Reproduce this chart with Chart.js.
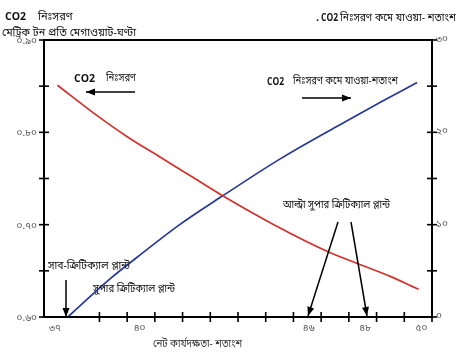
<!DOCTYPE html>
<html><head><meta charset="utf-8">
<script src="https://cdn.jsdelivr.net/npm/chart.js@4/dist/chart.umd.min.js"></script>
<style>html,body{margin:0;padding:0;background:#fff;}#wrap{width:468px;height:357px;position:relative;}</style>
</head><body><div id="wrap"><canvas id="c" width="468" height="357"></canvas></div>
<script>
// Net efficiency (%) vs CO2 emission (t/MWh)
const emissionEfficiency = [37.45, 38.7, 39.8, 40.9, 42.0, 43.0, 44.7, 46.5, 47.5, 48.6, 49.55];
const emissionValues     = [0.851, 0.820, 0.795, 0.773, 0.751, 0.731, 0.700, 0.671, 0.658, 0.644, 0.630];
// Net efficiency (%) vs CO2 reduction (%)
const reductionEfficiency = [37.8, 39.2, 40.35, 41.5, 43.0, 44.9, 46.9, 48.3, 49.5];
const reductionValues     = [0, 4.1, 7.05, 9.9, 13.15, 17.1, 20.8, 23.3, 25.4];
// tick labels
const xTickValues = [37, 40, 46, 48, 50];
const xTickLabels = ['৩৭', '৪০', '৪৬', '৪৮', '৫০'];
const leftTickValues = [0.60, 0.65, 0.70, 0.75, 0.80, 0.85, 0.90];
const leftTickLabels = ['০.৬০', '', '০.৭০', '', '০.৮০', '', '০.৯০'];
const rightTickValues = [0, 5, 10, 15, 20, 25, 30];
const rightTickLabels = ['০', '', '১০', '', '২০', '', '৩০'];

const BN = '"Noto Sans Bengali","Lohit Bengali","Noto Sans",sans-serif';

function arrow(ctx, x1, y1, x2, y2) {
  ctx.beginPath(); ctx.moveTo(x1, y1); ctx.lineTo(x2, y2); ctx.stroke();
  const a = Math.atan2(y2 - y1, x2 - x1), L = 9, W = 3.5;
  ctx.beginPath();
  ctx.moveTo(x2, y2);
  ctx.lineTo(x2 - L * Math.cos(a) + W * Math.sin(a), y2 - L * Math.sin(a) - W * Math.cos(a));
  ctx.lineTo(x2 - L * Math.cos(a) - W * Math.sin(a), y2 - L * Math.sin(a) + W * Math.cos(a));
  ctx.closePath(); ctx.fill();
}

const decor = {
  id: 'decor',
  afterDraw(chart) {
    const ctx = chart.ctx, ca = chart.chartArea;
    const sx = chart.scales.x, sy = chart.scales.y, sy2 = chart.scales.y2;
    ctx.save();
    ctx.strokeStyle = '#000'; ctx.fillStyle = '#000'; ctx.lineWidth = 2;
    ctx.strokeRect(ca.left, ca.top, ca.right - ca.left, ca.bottom - ca.top);
    ctx.lineWidth = 1.6;
    leftTickValues.forEach(v => { const p = sy.getPixelForValue(v); ctx.beginPath(); ctx.moveTo(ca.left - 5, p); ctx.lineTo(ca.left + 5, p); ctx.stroke(); });
    rightTickValues.forEach(v => { const p = sy2.getPixelForValue(v); ctx.beginPath(); ctx.moveTo(ca.right - 5, p); ctx.lineTo(ca.right + 5, p); ctx.stroke(); });
    const n = 14;
    for (let i = 2; i <= n; i++) {
      const p = sx.getPixelForValue(sx.min + i * (sx.max - sx.min) / n);
      ctx.beginPath(); ctx.moveTo(p, ca.bottom - 5); ctx.lineTo(p, ca.bottom + 5); ctx.stroke();
    }
    ctx.textBaseline = 'alphabetic'; ctx.textAlign = 'left';
    ctx.fillStyle = '#111';
    ctx.font = 'bold 11px "Open Sans", sans-serif';
    ctx.fillText('CO2', 5, 20, 21);
    ctx.fillText('.', 316, 21);
    ctx.fillText('CO2', 321, 21, 17);
    ctx.fillText('CO2', 74, 82, 21);
    ctx.fillText('CO2', 267, 85, 17);
    ctx.font = '11px ' + BN;
    ctx.fillText('নিঃসরণ', 38, 20, 38);
    ctx.fillText('মেট্রিক টন প্রতি মেগাওয়াট-ঘণ্টা', 2, 36, 134);
    ctx.fillText('নিঃসরণ কমে যাওয়া- শতাংশ', 340, 21, 116);
    ctx.fillText('নিঃসরণ', 106, 81, 30);
    ctx.fillText('নিঃসরণ কমে যাওয়া-শতাংশ', 293, 84, 105);
    ctx.fillText('আল্ট্রা সুপার ক্রিটিক্যাল প্লান্ট', 283, 208, 107);
    ctx.fillText('সাব-ক্রিটিক্যাল প্লান্ট', 48, 269, 82);
    ctx.fillText('সুপার ক্রিটিক্যাল প্লান্ট', 93, 292, 82);
    ctx.fillStyle = '#333';
    ctx.fillText('নেট কার্যদক্ষতা- শতাংশ', 153, 347, 89);
    ctx.strokeStyle = '#000'; ctx.fillStyle = '#000'; ctx.lineWidth = 1.5;
    arrow(ctx, 135, 92, 86, 92);
    arrow(ctx, 302, 98, 351, 98);
    arrow(ctx, 338, 222, 308, 316);
    arrow(ctx, 351, 222, 367, 316);
    arrow(ctx, 66, 280, 66, 317);
    ctx.restore();
  }
};

new Chart(document.getElementById('c'), {
  type: 'line',
  data: {
    datasets: [
      { data: emissionEfficiency.map((x, i) => ({ x, y: emissionValues[i] })), xAxisID: 'x', yAxisID: 'y',
        borderColor: '#d3322c', borderWidth: 1.7, pointRadius: 0, cubicInterpolationMode: 'monotone', fill: false },
      { data: reductionEfficiency.map((x, i) => ({ x, y: reductionValues[i] })), xAxisID: 'x', yAxisID: 'y2',
        borderColor: '#27389a', borderWidth: 1.7, pointRadius: 0, cubicInterpolationMode: 'monotone', fill: false }
    ]
  },
  options: {
    responsive: false, animation: false, devicePixelRatio: 1,
    layout: { padding: { top: 40, left: 0, right: 0, bottom: 0 } },
    plugins: { legend: { display: false }, tooltip: { enabled: false } },
    scales: {
      x: { type: 'linear', display: false, min: 37, max: 50 },
      xl: { type: 'linear', position: 'bottom', min: 36.61, max: 50.37,
        afterBuildTicks: s => { s.ticks = xTickValues.map(v => ({ value: v })); },
        afterFit: s => { s.height = 40; },
        grid: { display: false, drawTicks: false }, border: { display: false },
        ticks: { padding: 6, color: '#555', font: { size: 10, family: BN }, callback: (v, i) => xTickLabels[i] } },
      y: { type: 'linear', position: 'left', min: 0.6, max: 0.9,
        afterBuildTicks: s => { s.ticks = leftTickValues.map(v => ({ value: v })); },
        afterFit: s => { s.width = 44; },
        grid: { display: false, drawTicks: false }, border: { display: false },
        ticks: { padding: 7, labelOffset: 2, color: '#555', font: { size: 10, family: BN }, callback: (v, i) => leftTickLabels[i] } },
      y2: { type: 'linear', position: 'right', min: 0, max: 30,
        afterBuildTicks: s => { s.ticks = rightTickValues.map(v => ({ value: v })); },
        afterFit: s => { s.width = 36; },
        grid: { display: false, drawTicks: false }, border: { display: false },
        ticks: { padding: 4, color: '#555', font: { size: 10, family: BN }, callback: (v, i) => rightTickLabels[i] } }
    }
  },
  plugins: [decor]
});
</script></body></html>
